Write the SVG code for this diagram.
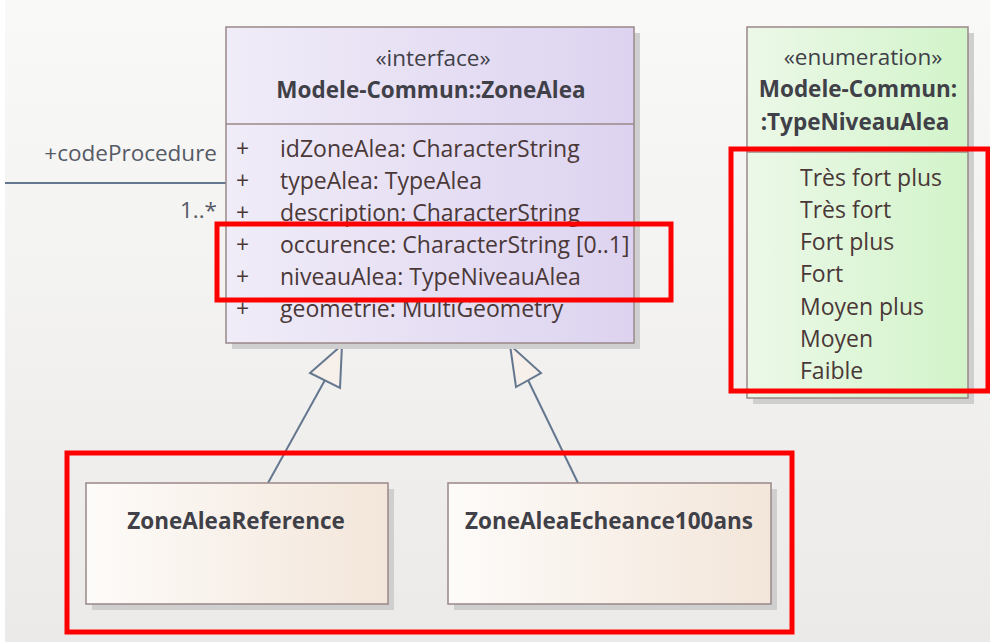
<svg xmlns="http://www.w3.org/2000/svg" width="990" height="642" viewBox="0 0 990 642">
<defs>
<linearGradient id="bg" x1="0" y1="0" x2="0" y2="1"><stop offset="0" stop-color="#f9f9f8"/><stop offset="1" stop-color="#ebeae8"/></linearGradient>
<linearGradient id="gPurple" x1="0" y1="0" x2="1" y2="0"><stop offset="0" stop-color="#f0ecf8"/><stop offset="1" stop-color="#ddd3f0"/></linearGradient>
<linearGradient id="gGreen" x1="0" y1="0" x2="1" y2="0"><stop offset="0" stop-color="#ecf8e8"/><stop offset="1" stop-color="#d2f4ca"/></linearGradient>
<linearGradient id="gTan" x1="0" y1="0" x2="1" y2="0"><stop offset="0" stop-color="#fdfbf9"/><stop offset="1" stop-color="#f3e6da"/></linearGradient>
<style>
.box{stroke:#9a8888;stroke-width:1.5}
.shadow{fill:#cfcfcf}
.t{font-family:"Open Sans","Noto Sans",sans-serif;font-size:23px;fill:#4a3838}
.h{font-family:"Open Sans","Noto Sans",sans-serif;font-size:22.5px;fill:#404048}
.b{font-weight:bold}
.c{text-anchor:middle}
.r{text-anchor:end}
.conn{stroke:#65778f;stroke-width:2;fill:none}
.tri{stroke:#65778f;stroke-width:2;fill:#f7efea}
.hl{fill:none;stroke:#ff0000;stroke-width:5}
.lbl{font-family:"Open Sans","Noto Sans",sans-serif;font-size:22.5px;fill:#555a66}
</style>
</defs>
<rect width="990" height="642" fill="url(#bg)"/>
<rect x="0" y="0" width="5" height="642" fill="#ffffff"/>

<g id="connectors">
<line class="conn" x1="5" y1="183" x2="226" y2="183"/>
<text class="lbl r" x="217" y="161">+codeProcedure</text>
<text class="lbl r" x="217" y="218">1..*</text>
<line class="conn" x1="268" y1="483" x2="325" y2="380"/>
<polygon class="tri" points="342,345 310,373 340,388"/>
<line class="conn" x1="578" y1="483" x2="528" y2="380"/>
<polygon class="tri" points="510,345 516,387 541,373"/>
</g>

<g id="ZoneAlea">
<rect class="shadow" x="232" y="33" width="408" height="316"/>
<rect class="box" x="226" y="27" width="408" height="316" fill="url(#gPurple)"/>
<line class="box" x1="226" y1="124" x2="634" y2="124"/>
<text class="h c" x="433" y="66">«interface»</text>
<text class="h c b" x="431" y="98">Modele-Commun::ZoneAlea</text>
<g class="t">
<text x="236" y="157">+</text><text x="280" y="157">idZoneAlea: CharacterString</text>
<text x="236" y="189">+</text><text x="280" y="189">typeAlea: TypeAlea</text>
<text x="236" y="221">+</text><text x="280" y="221">description: CharacterString</text>
<text x="236" y="253">+</text><text x="280" y="253">occurence: CharacterString [0..1]</text>
<text x="236" y="285">+</text><text x="280" y="285">niveauAlea: TypeNiveauAlea</text>
<text x="236" y="317">+</text><text x="280" y="317">geometrie: MultiGeometry</text>
</g>
</g>

<g id="TypeNiveauAlea">
<rect class="shadow" x="753" y="33" width="221" height="371"/>
<rect class="box" x="747" y="27" width="221" height="371" fill="url(#gGreen)"/>
<line class="box" x1="747" y1="152" x2="968" y2="152"/>
<text class="h c" x="863" y="65">«enumeration»</text>
<text class="h c b" x="858" y="97">Modele-Commun:</text>
<text class="h c b" x="855" y="130">:TypeNiveauAlea</text>
<g class="t">
<text x="800" y="186">Très fort plus</text>
<text x="800" y="218">Très fort</text>
<text x="800" y="250">Fort plus</text>
<text x="800" y="282">Fort</text>
<text x="800" y="315">Moyen plus</text>
<text x="800" y="347">Moyen</text>
<text x="800" y="379">Faible</text>
</g>
</g>

<g id="ZoneAleaReference">
<rect class="shadow" x="92" y="489" width="302" height="121"/>
<rect class="box" x="86" y="483" width="302" height="121" fill="url(#gTan)"/>
<text class="h c b" x="236" y="529">ZoneAleaReference</text>
</g>

<g id="ZoneAleaEcheance100ans">
<rect class="shadow" x="454" y="489" width="323" height="121"/>
<rect class="box" x="448" y="483" width="323" height="121" fill="url(#gTan)"/>
<text class="h c b" x="609" y="529">ZoneAleaEcheance100ans</text>
</g>

<g id="highlights">
<rect class="hl" x="217" y="224" width="454" height="76"/>
<rect class="hl" x="731" y="149" width="257" height="242"/>
<rect class="hl" x="67" y="453" width="725" height="179"/>
</g>
</svg>
